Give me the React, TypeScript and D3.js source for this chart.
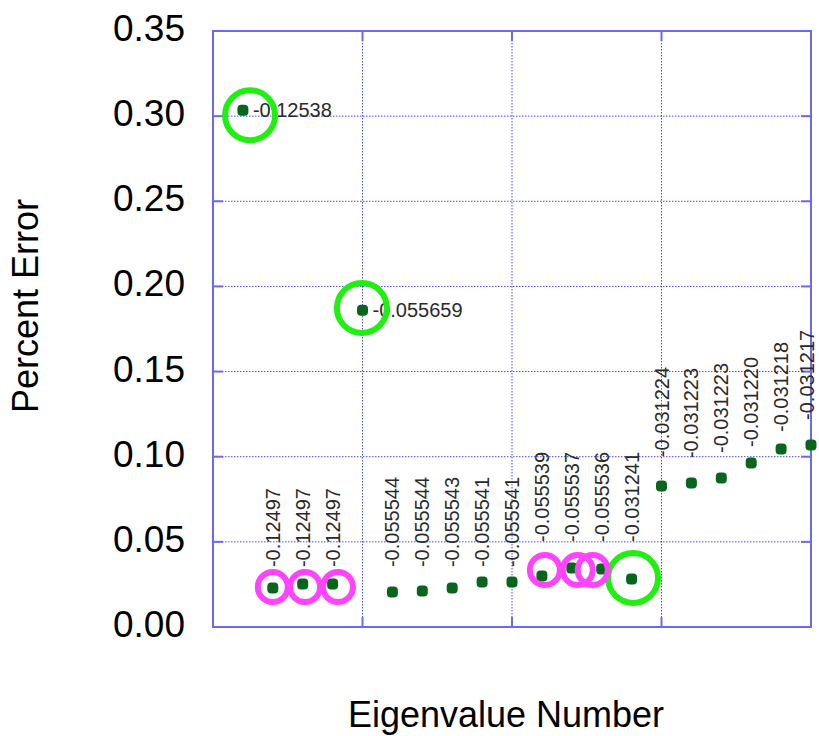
import React, { useEffect, useRef } from "react";
import * as d3 from "d3";

// eigenvalue number (x) and percent error (y)
const eigenNumbers = [1, 2, 3, 4, 5, 6, 7, 8, 9, 10, 11, 12, 13, 14, 15, 16, 17, 18, 19, 20];
const percentError = [
  0.3035, 0.0229, 0.0252, 0.0252, 0.186, 0.0205, 0.0211, 0.0229, 0.0264, 0.0264,
  0.0299, 0.0346, 0.034, 0.0282, 0.0828, 0.0846, 0.0875, 0.0963, 0.1045, 0.1069,
];
// eigenvalue shown next to each point
const eigenLabels = [
  "-0.12538", "-0.12497", "-0.12497", "-0.12497", "-0.055659",
  "-0.055544", "-0.055544", "-0.055543", "-0.055541", "-0.055541",
  "-0.055539", "-0.055537", "-0.055536", "-0.031241", "-0.031224",
  "-0.031223", "-0.031223", "-0.031220", "-0.031218", "-0.031217",
];
// where the vertical label starts (in percent-error units); null = label to the right
const labelBase = [
  null, 0.0352, 0.0352, 0.0352, null, 0.0352, 0.0352, 0.0352, 0.0352, 0.0352,
  0.0499, 0.0499, 0.0499, 0.0499, 0.0998, 0.0992, 0.1022, 0.1057, 0.1145, 0.1216,
];

const yTicks = [0, 0.05, 0.1, 0.15, 0.2, 0.25, 0.3, 0.35];
const xGrid = [0, 5, 10, 15, 20];

// highlight rings [eigenvalue number, percent error]
const greenRings = [[1.24, 0.3005], [4.98, 0.1873], [14.05, 0.0288]];
const magentaRings = [
  [2.0, 0.0235], [3.08, 0.0235], [4.18, 0.0235],
  [11.1, 0.0335], [12.2, 0.0335], [12.7, 0.0335],
];

const W = 819;
const H = 736;
const left = 213, right = 811, top = 31, bottom = 627;
const frameColor = "#6a6af0";
const gridColor = "#4a4af5";
const font = "'Liberation Sans', Arial, sans-serif";

function ScatterChart() {
  const svgRef = useRef<SVGSVGElement>(null);

  useEffect(() => {
    const svg = d3.select(svgRef.current);
    svg.selectAll("*").remove();

    const x = d3.scaleLinear().domain([0, 20]).range([left, right]);
    const y = d3.scaleLinear().domain([0, 0.35]).range([bottom, top]);

    const g = svg.append("g");

    // dotted grid
    g.selectAll(".hgrid").data(yTicks.slice(1, -1)).enter().append("line")
      .attr("x1", left).attr("x2", right)
      .attr("y1", d => y(d)).attr("y2", d => y(d))
      .attr("stroke", gridColor).attr("stroke-width", 1)
      .attr("stroke-dasharray", "1.5,1.5");
    g.selectAll(".vgrid").data(xGrid.slice(1, -1)).enter().append("line")
      .attr("y1", top).attr("y2", bottom)
      .attr("x1", d => x(d)).attr("x2", d => x(d))
      .attr("stroke", gridColor).attr("stroke-width", 1)
      .attr("stroke-dasharray", "1.5,1.5");

    // inward ticks on all four sides
    const tickLen = 10;
    yTicks.slice(1, -1).forEach(t => {
      g.append("line").attr("x1", left).attr("x2", left + tickLen)
        .attr("y1", y(t)).attr("y2", y(t)).attr("stroke", frameColor).attr("stroke-width", 2);
      g.append("line").attr("x1", right - tickLen).attr("x2", right)
        .attr("y1", y(t)).attr("y2", y(t)).attr("stroke", frameColor).attr("stroke-width", 2);
    });
    xGrid.slice(1, -1).forEach(t => {
      g.append("line").attr("y1", bottom).attr("y2", bottom - tickLen)
        .attr("x1", x(t)).attr("x2", x(t)).attr("stroke", frameColor).attr("stroke-width", 2);
      g.append("line").attr("y1", top).attr("y2", top + tickLen)
        .attr("x1", x(t)).attr("x2", x(t)).attr("stroke", frameColor).attr("stroke-width", 2);
    });

    // frame
    g.append("rect")
      .attr("x", left).attr("y", top)
      .attr("width", right - left).attr("height", bottom - top)
      .attr("fill", "none").attr("stroke", frameColor).attr("stroke-width", 2);

    // y tick labels
    g.selectAll(".ytl").data(yTicks).enter().append("text")
      .attr("x", 185).attr("y", d => y(d) - 3)
      .attr("dy", "0.35em")
      .attr("text-anchor", "end")
      .attr("font-family", font).attr("font-size", 37)
      .attr("fill", "#000")
      .text(d => d3.format(".2f")(d));

    // axis titles
    g.append("text")
      .attr("transform", "translate(38,306) rotate(-90)")
      .attr("text-anchor", "middle")
      .attr("font-family", font).attr("font-size", 36)
      .text("Percent Error");
    g.append("text")
      .attr("x", 506).attr("y", 727)
      .attr("text-anchor", "middle")
      .attr("font-family", font).attr("font-size", 36)
      .text("Eigenvalue Number");

    // point labels
    eigenNumbers.forEach((n, i) => {
      const base = labelBase[i];
      const t = g.append("text")
        .attr("font-family", font).attr("font-size", 20)
        .attr("fill", "#2a2a2a")
        .text(eigenLabels[i]);
      if (base === null) {
        t.attr("x", x(n) + 10).attr("y", y(percentError[i])).attr("dy", "0.35em");
      } else {
        // keep the last label inside the page edge
        const cx = Math.min(x(n), W - 12);
        t.attr("transform", `translate(${cx},${y(base)}) rotate(-90)`).attr("dy", "0.35em");
      }
    });

    // markers
    g.selectAll(".pt").data(eigenNumbers).enter().append("rect")
      .attr("x", d => x(d) - 5.5)
      .attr("y", (d, i) => y(percentError[i]) - 5.5)
      .attr("width", 11).attr("height", 11).attr("rx", 4)
      .attr("fill", "#07651c");

    // highlight rings
    g.selectAll(".gring").data(greenRings).enter().append("circle")
      .attr("cx", d => x(d[0])).attr("cy", d => y(d[1]))
      .attr("r", 25).attr("fill", "none")
      .attr("stroke", "#22ee11").attr("stroke-width", 6);
    g.selectAll(".mring").data(magentaRings).enter().append("circle")
      .attr("cx", d => x(d[0])).attr("cy", d => y(d[1]))
      .attr("r", 15).attr("fill", "none")
      .attr("stroke", "#ff44ff").attr("stroke-width", 6);
  }, []);

  return (
    <svg ref={svgRef} width={W} height={H}
      style={{ position: "absolute", left: 0, top: 0, background: "#fff" }} />
  );
}

export default function App() {
  return <ScatterChart />;
}
